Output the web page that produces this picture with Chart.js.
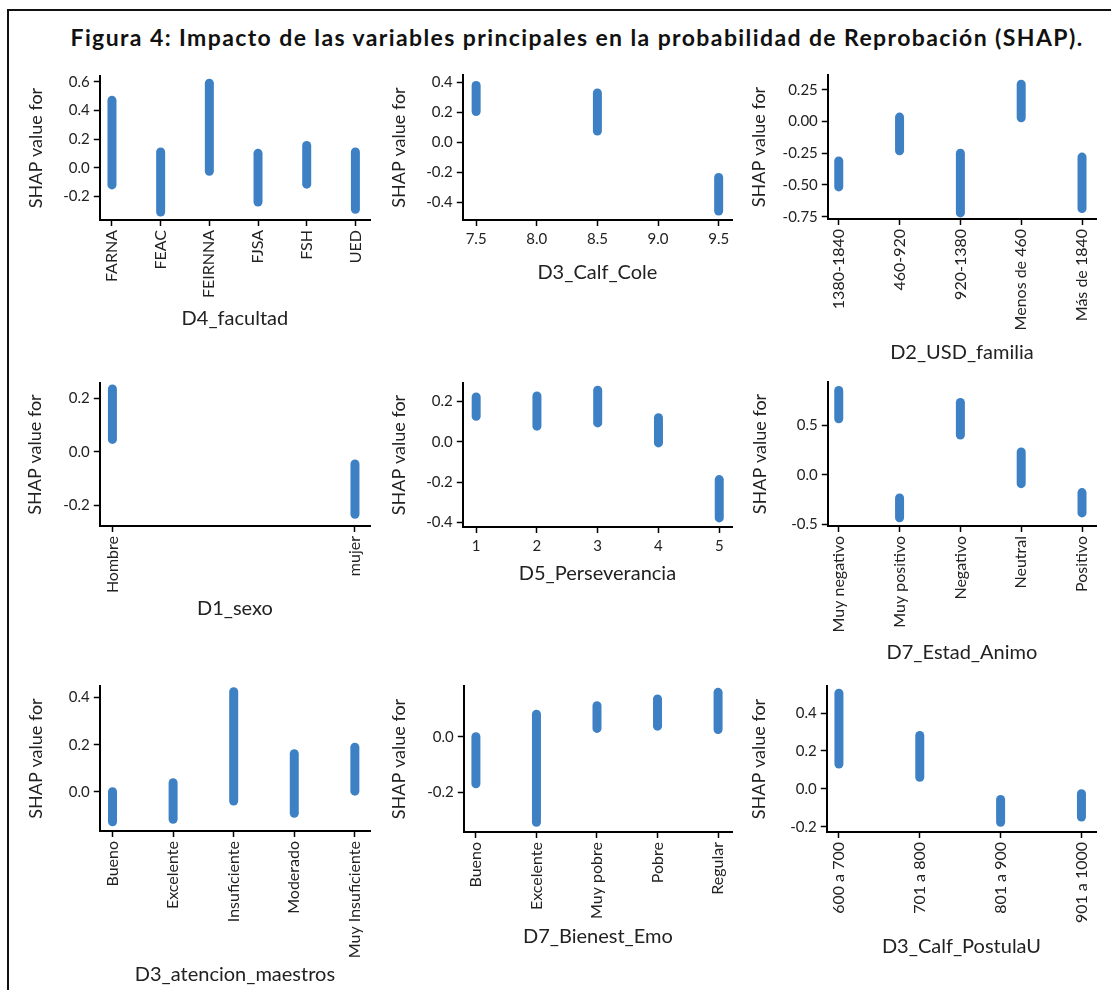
<!DOCTYPE html>
<html>
<head>
<meta charset="utf-8">
<script src="https://cdn.jsdelivr.net/npm/chart.js@4.4.1/dist/chart.umd.min.js"></script>
<style>
  html, body { margin: 0; padding: 0; background: #fff; overflow: hidden; }
  body { width: 1111px; height: 990px; position: relative; }
  #frame { position: absolute; left: 7px; top: 9px; width: 1200px; height: 1100px;
           border-top: 2px solid #111; border-left: 2px solid #111; }
  #titulo { position: absolute; left: 0; width: 1154px; top: 23px; text-align: center;
            font-family: Lato, sans-serif; font-weight: bold; font-size: 23px; letter-spacing: 1.4px;
            color: #111; white-space: nowrap; }
  canvas { position: absolute; }
</style>
</head>
<body>
<div id="frame"></div>
<div id="titulo">Figura 4: Impacto de las variables principales en la probabilidad de Reprobación (SHAP).</div>

<script>
// ---- datos ----
const facultadLabels = ['FARNA', 'FEAC', 'FEIRNNA', 'FJSA', 'FSH', 'UED'];
const facultadLow  = [-0.12, -0.31, -0.025, -0.24, -0.115, -0.29];
const facultadHigh = [0.47, 0.11, 0.59, 0.10, 0.155, 0.11];
const facultadTicks = [-0.2, 0.0, 0.2, 0.4, 0.6];

const caleValues = [7.5, 8.5, 9.5];
const caleLow  = [0.205, 0.075, -0.46];
const caleHigh = [0.38, 0.33, -0.235];
const caleXTicks = [7.5, 8.0, 8.5, 9.0, 9.5];
const caleTicks = [-0.4, -0.2, 0.0, 0.2, 0.4];

const usdLabels = ['1380-1840', '460-920', '920-1380', 'Menos de 460', 'Más de 1840'];
const usdLow  = [-0.515, -0.23, -0.72, 0.03, -0.685];
const usdHigh = [-0.31, 0.035, -0.25, 0.295, -0.28];
const usdTicks = [-0.75, -0.5, -0.25, 0.0, 0.25];

const sexoLabels = ['Hombre', 'mujer'];
const sexoLow  = [0.046, -0.234];
const sexoHigh = [0.235, -0.046];
const sexoTicks = [-0.2, 0.0, 0.2];

const persValues = [1, 2, 3, 4, 5];
const persLow  = [0.127, 0.078, 0.094, -0.005, -0.377];
const persHigh = [0.223, 0.228, 0.256, 0.12, -0.187];
const persTicks = [-0.4, -0.2, 0.0, 0.2];

const animoLabels = ['Muy negativo', 'Muy positivo', 'Negativo', 'Neutral', 'Positivo'];
const animoLow  = [0.565, -0.435, 0.40, -0.09, -0.385];
const animoHigh = [0.85, -0.235, 0.73, 0.23, -0.18];
const animoTicks = [-0.5, 0.0, 0.5];

const atencionLabels = ['Bueno', 'Excelente', 'Insuficiente', 'Moderado', 'Muy Insuficiente'];
const atencionLow  = [-0.127, -0.116, -0.039, -0.091, 0.003];
const atencionHigh = [0.001, 0.039, 0.425, 0.162, 0.189];
const atencionTicks = [0.0, 0.2, 0.4];

const bienestarLabels = ['Bueno', 'Excelente', 'Muy pobre', 'Pobre', 'Regular'];
const bienestarLow  = [-0.17, -0.309, 0.03, 0.038, 0.026];
const bienestarHigh = [0.0, 0.081, 0.112, 0.136, 0.16];
const bienestarTicks = [-0.2, 0.0];

const postulaLabels = ['600 a 700', '701 a 800', '801 a 900', '901 a 1000'];
const postulaLow  = [0.131, 0.061, -0.177, -0.149];
const postulaHigh = [0.505, 0.282, -0.056, -0.026];
const postulaTicks = [-0.2, 0.0, 0.2, 0.4];

// ---- estilo ----
Chart.defaults.font.family = 'Lato, sans-serif';
const BLUE = '#3d80c4';
const TXT = '#222';
const PAD_TOP = 12, PAD_RIGHT = 16;
const Y_TITLE = 18, X_TITLE = 20, X_TICK = 16, Y_TICK = 15;

/**
 * Dibuja un panel de dependencia SHAP
 * geo: [ejeIzq, ejeDer, ejeSup, ejeInf, centroTituloY, centroTituloX]
 */
function drawPanel(geo, p) {
    const [ax0, ax1, ay0, ay1, yTitleX, xTitleY] = geo;
    const left = yTitleX - Y_TITLE * 1.2 / 2;
    const top = ay0 - PAD_TOP;
    const right = ax1 + PAD_RIGHT;
    const bottom = xTitleY + X_TITLE * 1.2 / 2;

    const cv = document.createElement('canvas');
    cv.width = Math.round(right - left);
    cv.height = Math.round(bottom - top);
    cv.style.left = left + 'px';
    cv.style.top = top + 'px';
    document.body.appendChild(cv);

    const xs = p.labels ? p.labels.map((_, i) => i) : p.values;
    const xTickVals = p.xTicks || xs;
    const rot = p.labels ? 90 : 0;

    new Chart(cv.getContext('2d'), {
        type: 'scatter',
        data: {
            datasets: xs.map((x, i) => ({
                data: [{ x: x, y: p.low[i] }, { x: x, y: p.high[i] }],
                showLine: true,
                borderColor: BLUE,
                borderWidth: 9,
                borderCapStyle: 'round',
                pointRadius: 0,
                pointHoverRadius: 0
            }))
        },
        options: {
            responsive: false,
            animation: false,
            devicePixelRatio: 1,
            layout: { padding: { top: PAD_TOP, right: PAD_RIGHT, left: 0, bottom: 0 } },
            plugins: { legend: { display: false }, tooltip: { enabled: false } },
            scales: {
                x: {
                    type: 'linear',
                    min: p.xMin, max: p.xMax,
                    grid: { drawOnChartArea: false, tickLength: 6, tickWidth: 1.5, color: '#000' },
                    border: { color: '#000', width: 2 },
                    ticks: {
                        autoSkip: false, minRotation: rot, maxRotation: rot, padding: 4,
                        color: TXT, font: { size: p.labels ? X_TICK : Y_TICK },
                        callback: v => p.labels ? p.labels[v] : p.xFmt(v)
                    },
                    afterBuildTicks: s => { s.ticks = xTickVals.map(v => ({ value: v })); },
                    afterFit: s => { s.height = bottom - ay1; },
                    title: { display: true, text: p.xTitle, color: TXT, font: { size: X_TITLE }, padding: 0 }
                },
                y: {
                    min: p.yMin, max: p.yMax,
                    grid: { drawOnChartArea: false, tickLength: 6, tickWidth: 1.5, color: '#000' },
                    border: { color: '#000', width: 2 },
                    ticks: {
                        padding: 4, color: TXT, font: { size: Y_TICK },
                        callback: v => v.toFixed(p.dec || 1)
                    },
                    afterBuildTicks: s => { s.ticks = p.yTicks.map(v => ({ value: v })); },
                    afterFit: s => { s.width = ax0 - left; },
                    title: { display: true, text: 'SHAP value for', color: TXT, font: { size: Y_TITLE }, padding: 0 }
                }
            }
        }
    });
}

drawPanel([100, 370, 75, 220, 36, 319], {
    labels: facultadLabels, low: facultadLow, high: facultadHigh, yTicks: facultadTicks,
    xMin: -0.25, xMax: 5.3, yMin: -0.365, yMax: 0.64, xTitle: 'D4_facultad'
});
drawPanel([463, 732, 74, 220, 399, 273], {
    values: caleValues, xTicks: caleXTicks, low: caleLow, high: caleHigh, yTicks: caleTicks,
    xFmt: v => v.toFixed(1),
    xMin: 7.39, xMax: 9.61, yMin: -0.52, yMax: 0.45, xTitle: 'D3_Calf_Cole'
});
drawPanel([828, 1096, 74, 219, 759, 353], {
    labels: usdLabels, low: usdLow, high: usdHigh, yTicks: usdTicks, dec: 2,
    xMin: -0.18, xMax: 4.23, yMin: -0.768, yMax: 0.367, xTitle: 'D2_USD_familia'
});
drawPanel([100, 370, 382, 526, 35, 609], {
    labels: sexoLabels, low: sexoLow, high: sexoHigh, yTicks: sexoTicks,
    xMin: -0.052, xMax: 1.062, yMin: -0.278, yMax: 0.257, xTitle: 'D1_sexo'
});
drawPanel([463, 732, 382, 527, 399, 574], {
    values: persValues, low: persLow, high: persHigh, yTicks: persTicks,
    xFmt: v => String(v),
    xMin: 0.78, xMax: 5.21, yMin: -0.422, yMax: 0.292, xTitle: 'D5_Perseverancia'
});
drawPanel([828, 1096, 381, 526, 760, 653], {
    labels: animoLabels, low: animoLow, high: animoHigh, yTicks: animoTicks,
    xMin: -0.18, xMax: 4.23, yMin: -0.517, yMax: 0.936, xTitle: 'D7_Estad_Animo'
});
drawPanel([100, 370, 685, 831, 36, 975], {
    labels: atencionLabels, low: atencionLow, high: atencionHigh, yTicks: atencionTicks,
    xMin: -0.21, xMax: 4.25, yMin: -0.166, yMax: 0.449, xTitle: 'D3_atencion_maestros'
});
drawPanel([464, 732, 685, 832, 399, 937], {
    labels: bienestarLabels, low: bienestarLow, high: bienestarHigh, yTicks: bienestarTicks,
    xMin: -0.2, xMax: 4.23, yMin: -0.344, yMax: 0.183, xTitle: 'D7_Bienest_Emo'
});
drawPanel([827, 1096, 685, 832, 759, 947], {
    labels: postulaLabels, low: postulaLow, high: postulaHigh, yTicks: postulaTicks,
    xMin: -0.15, xMax: 3.18, yMin: -0.228, yMax: 0.543, xTitle: 'D3_Calf_PostulaU'
});
</script>
</body>
</html>
